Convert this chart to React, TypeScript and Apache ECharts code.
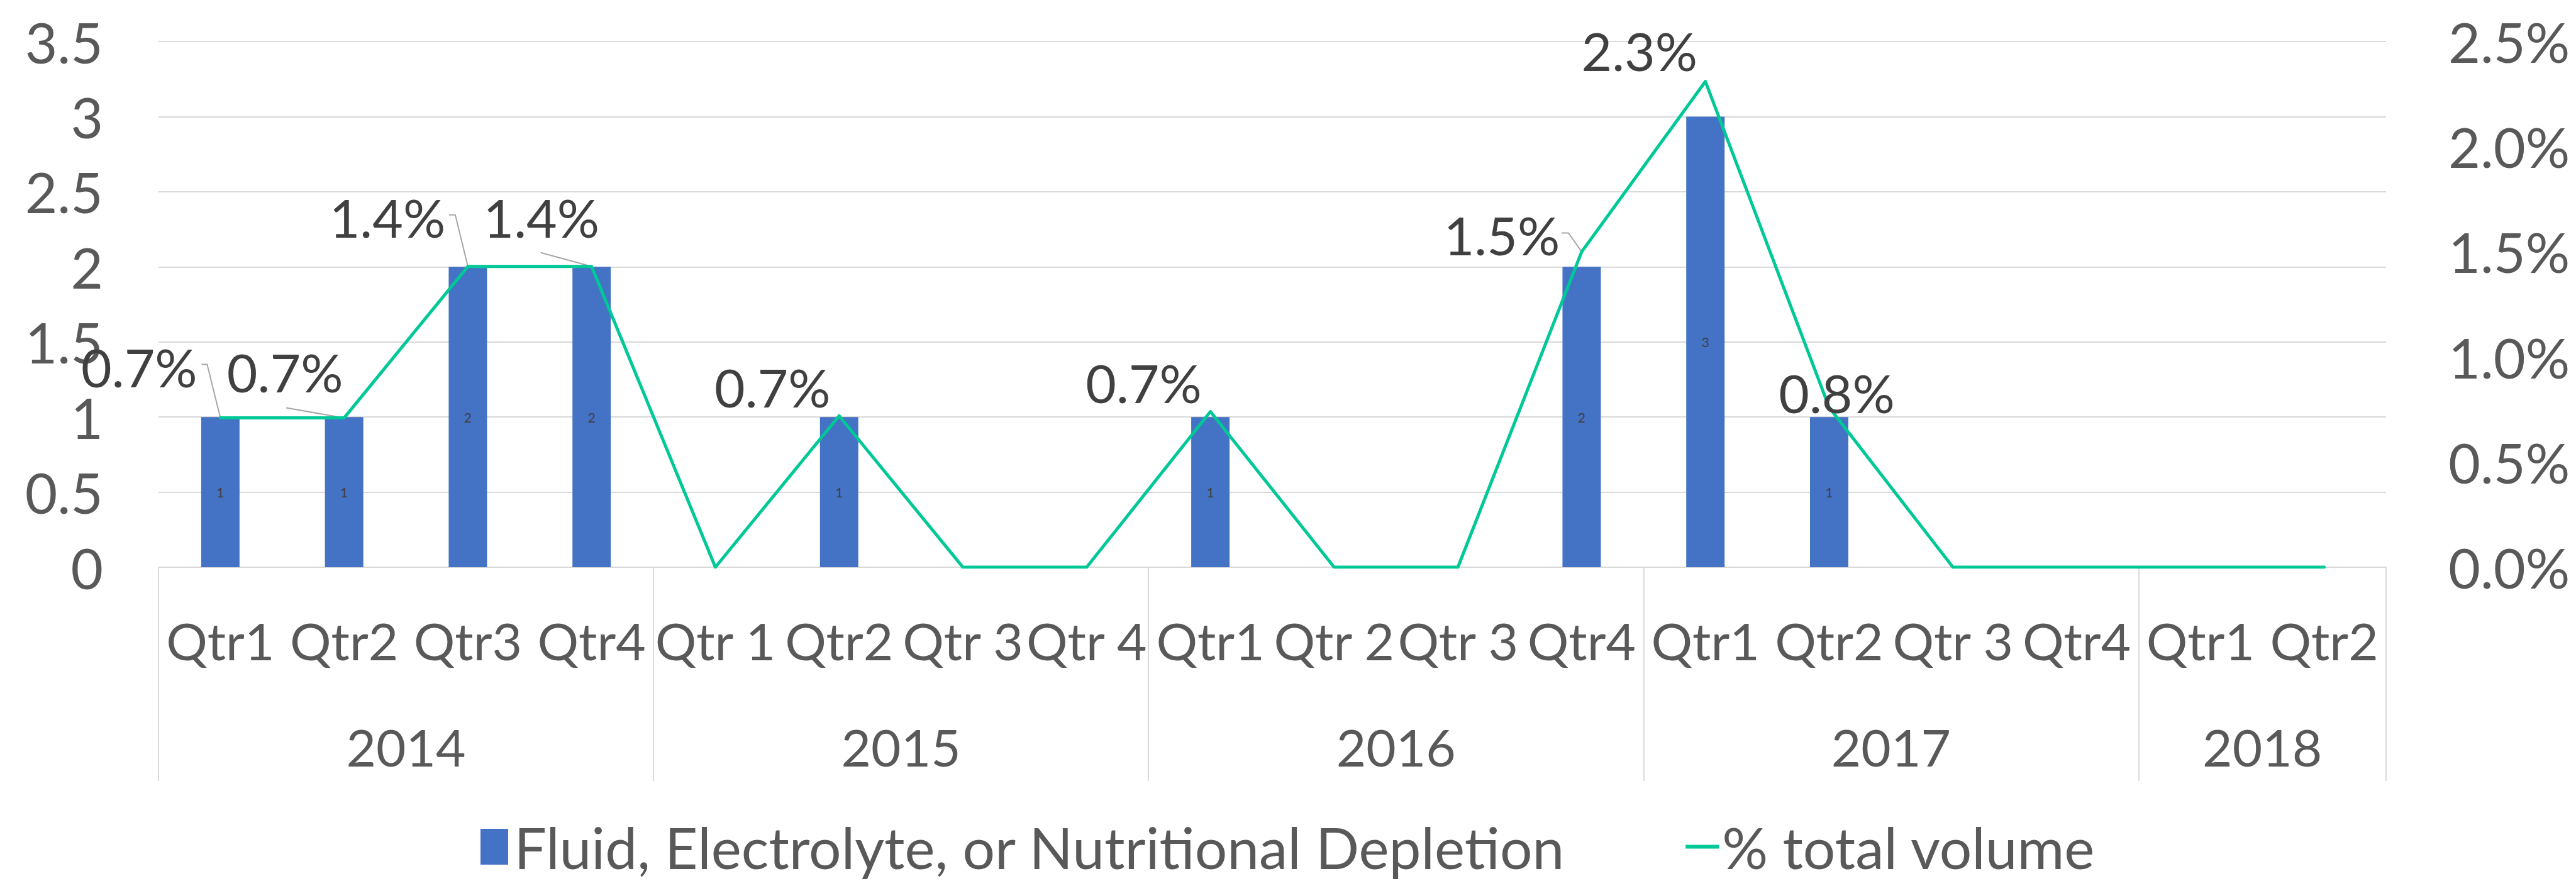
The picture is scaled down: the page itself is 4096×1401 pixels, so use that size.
import React, { useEffect, useRef } from "react";
import * as echarts from "echarts";

const quarters = [
  "Qtr1", "Qtr2", "Qtr3", "Qtr4",
  "Qtr 1", "Qtr2", "Qtr 3", "Qtr 4",
  "Qtr1", "Qtr 2", "Qtr 3", "Qtr4",
  "Qtr1", "Qtr2", "Qtr 3", "Qtr4",
  "Qtr1", "Qtr2",
];
const years = ["2014", "2015", "2016", "2017", "2018"];
const quartersPerYear = [4, 4, 4, 4, 2];
const depletionCounts = [1, 1, 2, 2, 0, 1, 0, 0, 1, 0, 0, 2, 3, 1, 0, 0, 0, 0];
const pctTotalVolume = [0.71, 0.71, 1.43, 1.43, 0, 0.72, 0, 0, 0.74, 0, 0, 1.5, 2.31, 0.76, 0, 0, 0, 0];
const countAxisMax = 3.5;
const countAxisStep = 0.5;
const pctAxisMax = 2.5;
const pctAxisStep = 0.5;

const FONT = "Lato, 'Noto Sans', sans-serif";

// label placement (px offsets from the data point), as in the reference
const pctLabelOffsets: Record<number, [number, number]> = {
  0: [-129, -81],
  1: [-94, -73],
  2: [-128, -78],
  3: [-80, -78],
  5: [-106, -46],
  8: [-106, -46],
  11: [-127, -27],
  12: [-105, -49],
  13: [12, -23],
};
const leaderLines: Record<number, [number, number][]> = {
  0: [[-21, -85], [-30, -85]],
  1: [[-92, -16]],
  2: [[-20, -82], [-30, -82]],
  3: [[-81, -22]],
  11: [[-21, -30], [-32, -30]],
};

export default function App() {
  const ref = useRef<HTMLDivElement>(null);
  useEffect(() => {
    if (!ref.current) return;
    const chart = echarts.init(ref.current, null, { renderer: "svg" });

    // year axis built on half-quarter slots so group labels sit centered
    const totalSlots = quartersPerYear.reduce((a, b) => a + b, 0) * 2;
    const yearSlots: string[] = new Array(totalSlots + 1).fill("");
    const boundaries = new Set<number>([0]);
    let pos = 0;
    years.forEach((y, i) => {
      const span = quartersPerYear[i] * 2;
      yearSlots[pos + span / 2] = y;
      pos += span;
      boundaries.add(pos);
    });

    const leaderData = Object.keys(leaderLines).map((k) => [Number(k), pctTotalVolume[Number(k)]]);

    chart.setOption({
      animation: false,
      backgroundColor: "#ffffff",
      textStyle: { fontFamily: FONT },
      grid: { left: 252, right: 302, top: 66, bottom: 499, containLabel: false },
      legend: {
        left: 759,
        top: 1296,
        itemWidth: 53,
        itemHeight: 57,
        itemGap: 191,
        textStyle: { fontSize: 91, color: "#595959", fontFamily: FONT },
        selectedMode: false,
        data: [
          { name: "Fluid, Electrolyte, or Nutritional Depletion", icon: "path://M0,0H44V57H0Z" },
          { name: "% total volume", icon: "path://M0,0H53V6H0Z" },
        ],
      },
      xAxis: [
        {
          type: "category",
          data: quarters,
          position: "bottom",
          axisLine: { show: true, lineStyle: { color: "#D9D9D9", width: 2 } },
          axisTick: { show: false },
          axisLabel: {
            interval: 0,
            margin: 75,
            fontSize: 82,
            color: "#595959",
            fontFamily: FONT,
            hideOverlap: false,
          },
        },
        {
          type: "category",
          data: yearSlots,
          boundaryGap: false,
          position: "bottom",
          axisLine: { show: false },
          axisTick: {
            show: true,
            length: 340,
            interval: (index: number) => boundaries.has(index),
            lineStyle: { color: "#D9D9D9", width: 2 },
          },
          axisLabel: {
            interval: 0,
            margin: 244,
            fontSize: 82,
            color: "#595959",
            fontFamily: FONT,
            hideOverlap: false,
          },
        },
      ],
      yAxis: [
        {
          type: "value",
          min: 0,
          max: countAxisMax,
          interval: countAxisStep,
          axisLine: { show: false },
          axisTick: { show: false },
          splitLine: { lineStyle: { color: "#D9D9D9", width: 2 } },
          axisLabel: { margin: 88, fontSize: 89, color: "#595959", fontFamily: FONT },
        },
        {
          type: "value",
          min: 0,
          max: pctAxisMax,
          interval: pctAxisStep,
          axisLine: { show: false },
          axisTick: { show: false },
          splitLine: { show: false },
          axisLabel: {
            margin: 99,
            fontSize: 88,
            color: "#595959",
            fontFamily: FONT,
            formatter: (v: number) => v.toFixed(1) + "%",
          },
        },
      ],
      series: [
        {
          type: "bar",
          name: "Fluid, Electrolyte, or Nutritional Depletion",
          data: depletionCounts,
          xAxisIndex: 0,
          yAxisIndex: 0,
          barWidth: 61,
          itemStyle: { color: "#4472C4" },
          label: {
            show: true,
            position: "inside",
            fontSize: 21,
            color: "#404040",
            fontFamily: FONT,
            formatter: (p: any) => (p.value ? String(p.value) : ""),
          },
          emphasis: { disabled: true },
          z: 2,
        },
        {
          type: "line",
          name: "% total volume",
          xAxisIndex: 0,
          yAxisIndex: 1,
          data: pctTotalVolume.map((v, i) => ({
            value: v,
            label: pctLabelOffsets[i]
              ? { show: true, offset: pctLabelOffsets[i] }
              : { show: false },
          })),
          symbol: "circle",
          symbolSize: 1,
          showSymbol: true,
          lineStyle: { color: "#00C896", width: 5, join: "round", cap: "round" },
          itemStyle: { color: "#00C896" },
          label: {
            position: "inside",
            fontSize: 84,
            color: "#404040",
            fontFamily: FONT,
            align: "center",
            verticalAlign: "middle",
            formatter: (p: any) => Number(p.value).toFixed(1) + "%",
          },
          emphasis: { disabled: true },
          z: 4,
        },
        {
          type: "custom",
          name: "leaders",
          xAxisIndex: 0,
          yAxisIndex: 1,
          data: leaderData,
          encode: { x: 0, y: 1 },
          silent: true,
          z: 3,
          renderItem: (params: any, api: any) => {
            const idx = api.value(0);
            const v = api.value(1);
            const p = api.coord([idx, v]);
            const segs = leaderLines[idx] || [];
            const pts = [p, ...segs.map(([dx, dy]) => [p[0] + dx, p[1] + dy])];
            return {
              type: "polyline",
              shape: { points: pts },
              style: { stroke: "#A6A6A6", lineWidth: 2, fill: null },
            };
          },
        },
      ],
    });
    return () => chart.dispose();
  }, []);
  return (
    <div
      ref={ref}
      style={{ position: "absolute", left: 0, top: 0, width: 4096, height: 1401 }}
    />
  );
}
